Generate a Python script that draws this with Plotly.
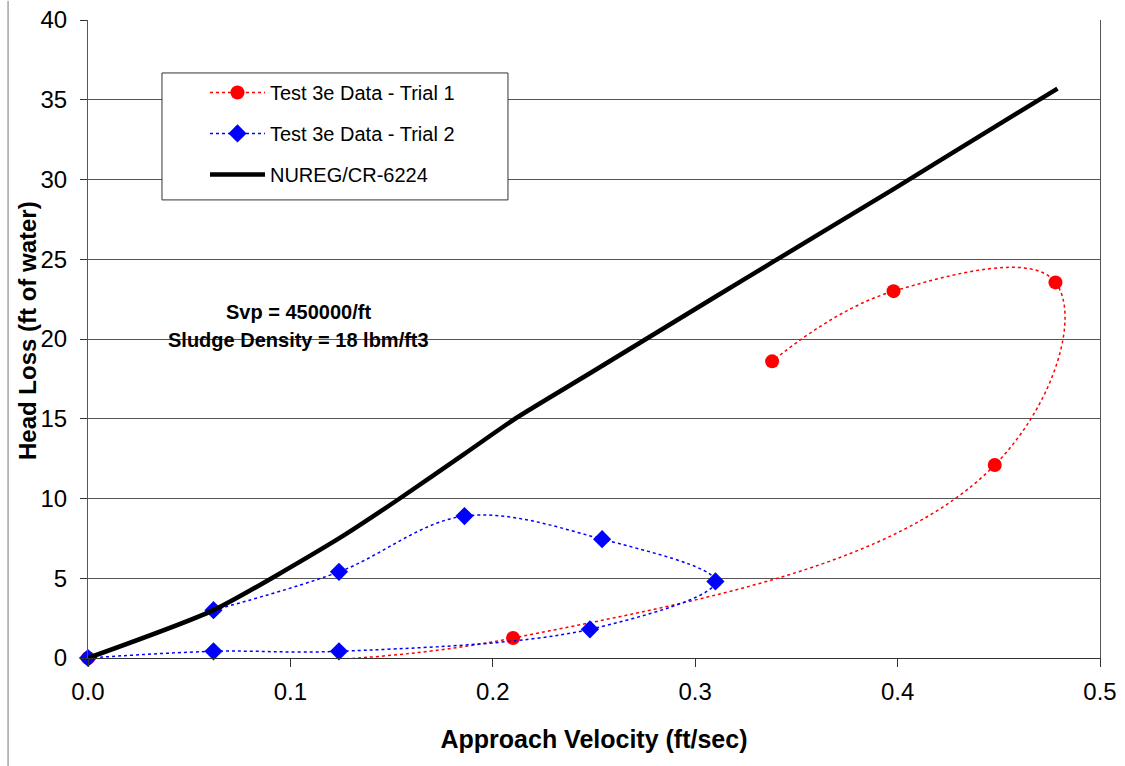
import plotly.graph_objects as go

# Trial 1 (red circles)
t1_vel = [0.0, 0.210, 0.448, 0.478, 0.398, 0.338]
t1_head = [0.0, 1.25, 12.1, 23.55, 23.0, 18.6]

# Trial 2 (blue diamonds)
t2_vel = [0.0, 0.062, 0.124, 0.248, 0.310, 0.254, 0.186, 0.124, 0.062]
t2_head = [0.0, 0.42, 0.42, 1.8, 4.8, 7.45, 8.9, 5.4, 3.0]

# NUREG/CR-6224 prediction
nureg_vel = [0.0, 0.062, 0.124, 0.154, 0.186, 0.211, 0.248, 0.310, 0.338, 0.398, 0.448, 0.479]
nureg_head = [0.0, 3.0, 7.5, 10.0, 12.8, 15.0, 17.85, 22.65, 24.8, 29.4, 33.3, 35.7]

x_ticks = [0.0, 0.1, 0.2, 0.3, 0.4, 0.5]
x_ticktext = ["0.0", "0.1", "0.2", "0.3", "0.4", "0.5"]
y_ticks = [0, 5, 10, 15, 20, 25, 30, 35, 40]

FONT = "Liberation Sans, Arial, sans-serif"

fig = go.Figure()
fig.add_trace(go.Scatter(
    x=t1_vel, y=t1_head, name="Test 3e Data - Trial 1", mode="lines+markers",
    line=dict(color="#ff0000", width=1.5, dash="dot", shape="spline", smoothing=1.2),
    marker=dict(symbol="circle", size=14, color="#ff0000"),
    legendgroup="a", cliponaxis=False))
fig.add_trace(go.Scatter(
    x=t2_vel, y=t2_head, name="Test 3e Data - Trial 2", mode="lines+markers",
    line=dict(color="#0000ff", width=1.5, dash="dot", shape="spline", smoothing=1.0),
    marker=dict(symbol="diamond", size=14, color="#0000ff"),
    legendgroup="b", cliponaxis=False))
fig.add_trace(go.Scatter(
    x=nureg_vel, y=nureg_head, name="NUREG/CR-6224", mode="lines",
    line=dict(color="#000000", width=4.5, shape="spline", smoothing=0.6),
    legendgroup="c"))

fig.update_layout(
    width=1125, height=766,
    margin=dict(l=88, r=25, t=20, b=108, autoexpand=False),
    paper_bgcolor="white", plot_bgcolor="white",
    font=dict(family=FONT, color="black", size=22),
    showlegend=True,
    legend=dict(
        x=0.1156, y=0.917, xanchor="left", yanchor="top",
        bgcolor="rgba(0,0,0,0)", borderwidth=0,
        font=dict(family=FONT, size=20, color="black"),
        tracegroupgap=12, itemwidth=55, traceorder="grouped",
    ),
    xaxis=dict(
        range=[0, 0.5], tickvals=x_ticks, ticktext=x_ticktext,
        showgrid=False, zeroline=False, automargin=False,
        showline=True, linecolor="#333333", linewidth=1,
        ticks="outside", ticklen=8, tickcolor="#333333",
        tickfont=dict(family=FONT, size=24, color="black"),
        ticklabelstandoff=4,
        title=dict(text="<b>Approach Velocity (ft/sec)</b>", font=dict(family=FONT, size=25), standoff=26),
    ),
    yaxis=dict(
        range=[0, 40], tickvals=y_ticks, automargin=False,
        showgrid=True, gridcolor="#555555", gridwidth=1, zeroline=False,
        showline=True, linecolor="#555555", linewidth=1, mirror=True,
        ticks="outside", ticklen=7, tickcolor="#333333",
        tickfont=dict(family=FONT, size=24, color="black"),
        ticklabelstandoff=8,
    ),
    annotations=[
        dict(x=-0.0603, y=0.514, xref="paper", yref="paper", showarrow=False,
             text="<b>Head Loss (ft of water)</b>", textangle=-90,
             font=dict(family=FONT, size=24, color="black"),
             xanchor="center", yanchor="middle"),
        dict(x=0.104, y=21.7, xref="x", yref="y", showarrow=False,
             text="<b>Svp = 450000/ft</b>", font=dict(family=FONT, size=20, color="black"),
             xanchor="center", yanchor="middle"),
        dict(x=0.104, y=19.95, xref="x", yref="y", showarrow=False,
             text="<b>Sludge Density = 18 lbm/ft3</b>", font=dict(family=FONT, size=20, color="black"),
             xanchor="center", yanchor="middle"),
    ],
    shapes=[
        dict(type="line", xref="paper", yref="paper", x0=-0.079, x1=-0.079, y0=-0.17, y1=1.03,
             line=dict(color="#777777", width=1)),
        dict(type="rect", xref="paper", yref="paper", x0=0.0731, x1=0.415, y0=0.718, y1=0.917,
             fillcolor="white", line=dict(color="#333333", width=1), layer="above"),
    ],
)

fig.write_html("out.html")
